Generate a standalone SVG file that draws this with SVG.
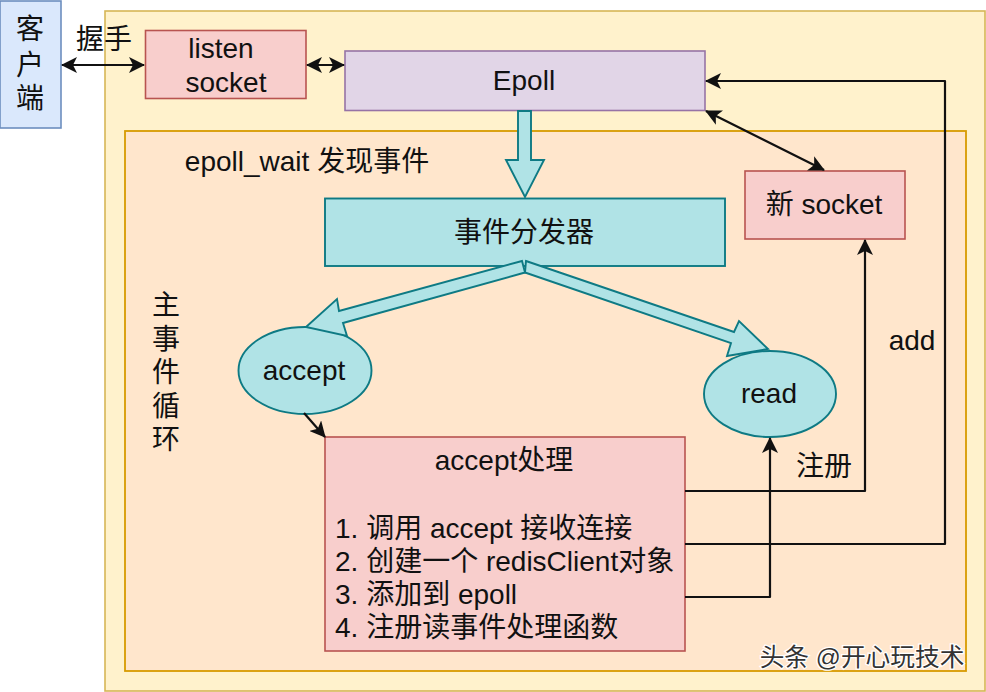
<svg xmlns="http://www.w3.org/2000/svg" width="986" height="692" viewBox="0 0 986 692">
<style>
text{font-family:"Liberation Sans","Noto Sans CJK SC",sans-serif;font-size:28px;fill:#111;text-anchor:middle}
.l{text-anchor:start}
.mark{font-size:24.700px;fill:#333;stroke:#fff;stroke-width:2.500px;paint-order:stroke}
.pink{fill:#f8cecc;stroke:#b85450;stroke-width:1.6}
.cyan{fill:#b0e3e6;stroke:#0e7a84;stroke-width:1.9}
.line{fill:none;stroke:#111;stroke-width:2.2;stroke-linejoin:round}
.head{fill:#111;stroke:none}
</style>
<defs>
<marker id="a" viewBox="0 0 16 16" refX="15" refY="8" markerWidth="16" markerHeight="16" markerUnits="userSpaceOnUse" orient="auto-start-reverse"><path class="head" d="M0 0L16 8L0 16L4 8Z"/></marker>
</defs>
<rect width="986" height="692" fill="#fff"/>
<g id="outer"><rect x="105" y="11" width="880" height="680" fill="#fff2cc" stroke="#d6b656" stroke-width="1.6"/></g>
<g id="main-loop"><rect x="125" y="131" width="841" height="540" fill="#ffe6cc" stroke="#d79b00" stroke-width="1.8"/>
<text x="307" y="171">epoll_wait 发现事件</text>
<text x="166" y="315">主</text><text x="166" y="349">事</text><text x="166" y="382">件</text><text x="166" y="416">循</text><text x="166" y="449">环</text></g>
<g id="client"><rect x="0" y="1" width="61" height="127" fill="#dae8fc" stroke="#6c8ebf" stroke-width="1.6"/>
<text x="30" y="39">客</text><text x="30" y="75">户</text><text x="30" y="108">端</text></g>
<g id="listen-socket"><rect class="pink" x="145.500" y="30.500" width="160.500" height="68"/>
<text x="221" y="58">listen</text><text x="226" y="92">socket</text></g>
<g id="epoll"><rect x="345" y="51" width="360" height="59.500" fill="#e1d5e7" stroke="#9673a6" stroke-width="1.6"/>
<text x="524" y="90">Epoll</text></g>
<g id="new-socket"><rect class="pink" x="745" y="171" width="160" height="68"/>
<text x="824" y="214">新 socket</text></g>
<g id="dispatcher"><rect class="cyan" x="325" y="198.500" width="400" height="67.500"/>
<text x="524" y="242">事件分发器</text></g>
<g id="accept"><ellipse class="cyan" cx="305" cy="370.500" rx="66.500" ry="43.500"/>
<text x="304" y="380">accept</text></g>
<g id="read"><ellipse class="cyan" cx="770" cy="394" rx="66" ry="43"/>
<text x="769" y="403">read</text></g>
<g id="accept-handler"><rect class="pink" x="325" y="437" width="360" height="214"/>
<text x="504" y="470">accept处理</text>
<text class="l" x="335" y="538">1. 调用 accept 接收连接</text>
<text class="l" x="335" y="571">2. 创建一个 redisClient对象</text>
<text class="l" x="335" y="604">3. 添加到 epoll</text>
<text class="l" x="335" y="637">4. 注册读事件处理函数</text></g>
<g id="connectors">
<path class="cyan" d="M518 111H531V160H544L525 197L506 160H518Z"/>
<path class="cyan" d="M522 261L339 311L337 299L306 327L347 336L343 323L525 272.500Z"/>
<path class="cyan" d="M526 261L734 332L739 321L768 349L727 356L731 343L525 272.500Z"/>
<path class="line" d="M62 65H144" marker-start="url(#a)" marker-end="url(#a)"/>
<path class="line" d="M307 65H344" marker-start="url(#a)" marker-end="url(#a)"/>
<path class="line" d="M706 111L824 170" marker-start="url(#a)" marker-end="url(#a)"/>
<path class="line" d="M685 491H865V240" marker-end="url(#a)"/>
<path class="line" d="M685 544H945V81H706" marker-end="url(#a)"/>
<path class="line" d="M685 597H770V438" marker-end="url(#a)"/>
<path class="line" d="M304 413L325 437" marker-end="url(#a)"/>
<text x="104" y="49">握手</text>
<text x="912" y="350">add</text>
<text x="824" y="476">注册</text>
</g>
<text class="mark" x="862" y="666">头条 @开心玩技术</text>
</svg>
